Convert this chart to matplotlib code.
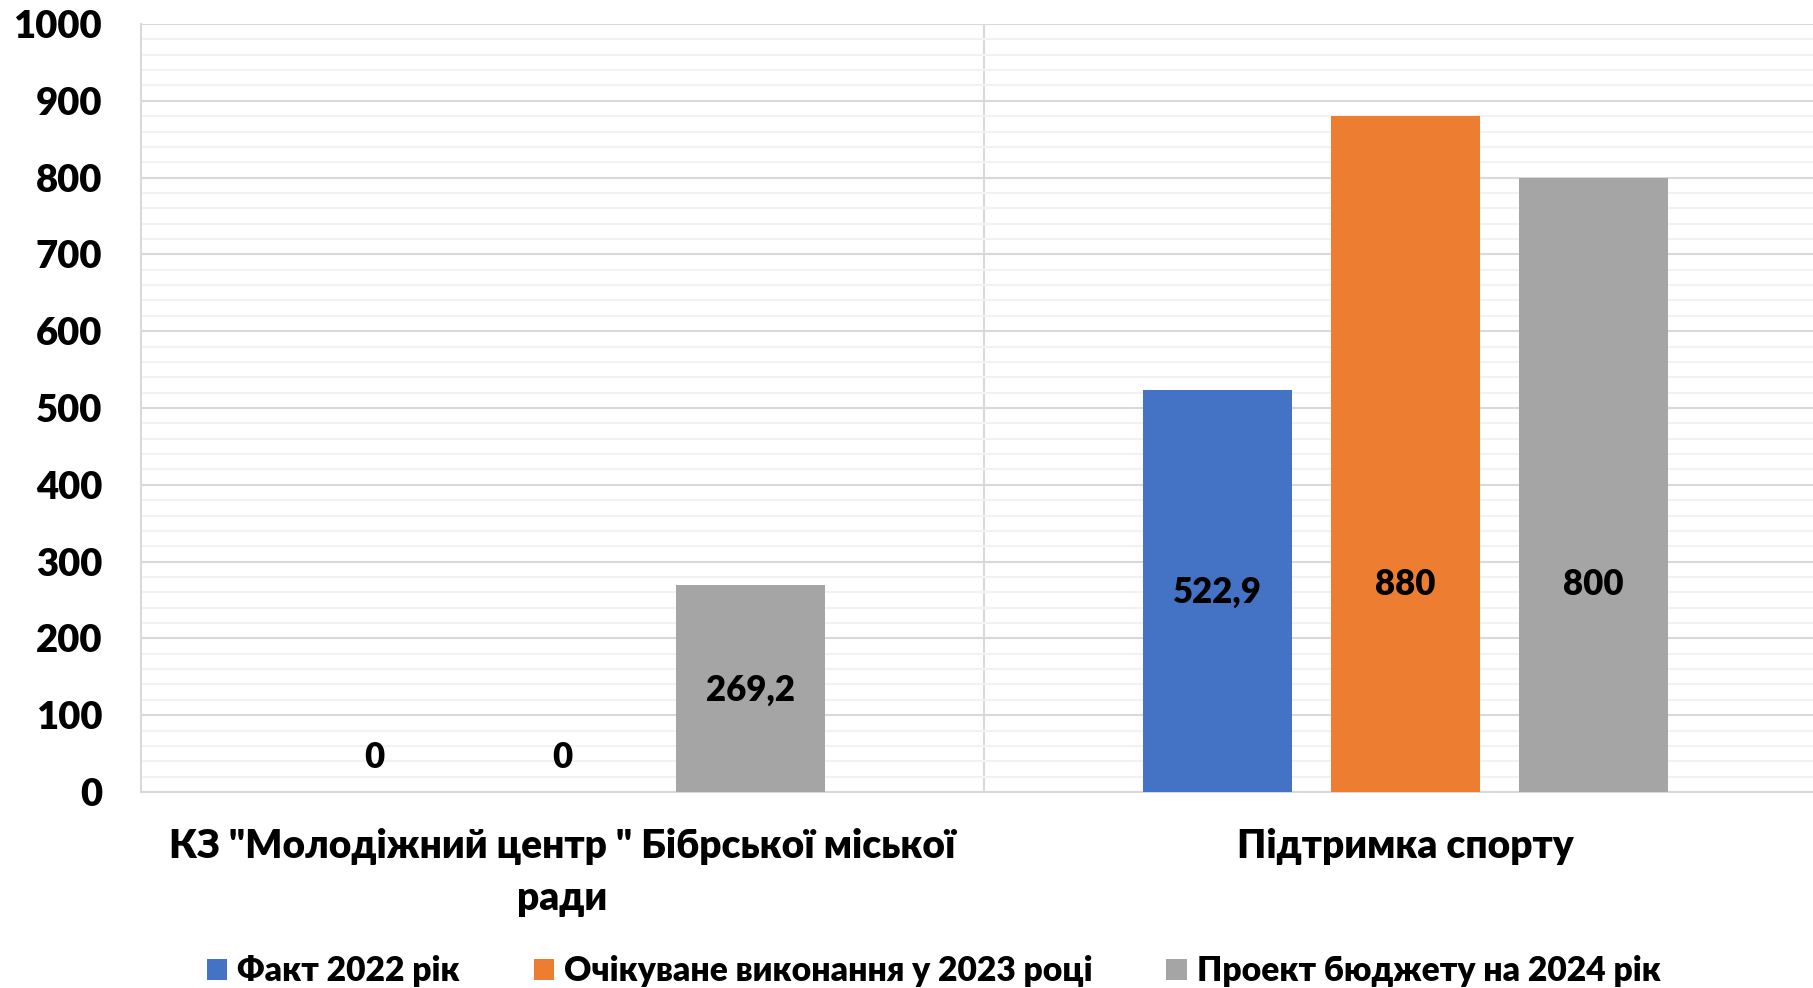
import numpy as np
import matplotlib.pyplot as plt
from matplotlib.ticker import MultipleLocator

# Дані діаграми
categories = ['КЗ "Молодіжний центр " Бібрської міської\nради', 'Підтримка спорту']
series_names = ['Факт 2022 рік', 'Очікуване виконання у 2023 році', 'Проект бюджету на 2024 рік']
fact_2022 = [0, 522.9]
expected_2023 = [0, 880]
project_2024 = [269.2, 800]
value_labels = [['0', '522,9'], ['0', '880'], ['269,2', '800']]
# висота підписів (як у вихідній діаграмі)
label_heights = [[45, 260], [45, 270], [133, 270]]

colors = ['#4472C4', '#ED7D31', '#A5A5A5']

plt.rcParams['font.family'] = ['Lato', 'DejaVu Sans']
W = 'heavy'

fig = plt.figure(figsize=(18.13, 9.88), dpi=100)
ax = fig.add_axes([141 / 1813, 196 / 988, 1686 / 1813, 768 / 988])

x = np.arange(len(categories))
width = 0.1756
step = 0.223
series = [fact_2022, expected_2023, project_2024]

for i, (name, vals) in enumerate(zip(series_names, series)):
    pos = x + (i - 1) * step
    ax.bar(pos, vals, width, color=colors[i], label=name, zorder=3)
    for p, txt, h in zip(pos, value_labels[i], label_heights[i]):
        ax.text(p, h, txt, ha='center', va='center', fontsize=25,
                fontweight=W, color='black', zorder=4)

ax.set_xlim(-0.5, 1.5)
ax.set_ylim(0, 1000)
ax.yaxis.set_major_locator(MultipleLocator(100))
ax.yaxis.set_minor_locator(MultipleLocator(20))
ax.grid(axis='y', which='major', color='#d9d9d9', linewidth=1.5, zorder=1)
ax.grid(axis='y', which='minor', color='#f2f2f2', linewidth=1.5, zorder=0)
ax.axvline(0.5, color='#d9d9d9', linewidth=1.5, zorder=1)

for side in ['top', 'right']:
    ax.spines[side].set_visible(False)
ax.spines['left'].set_color('#d9d9d9')
ax.spines['bottom'].set_color('#d9d9d9')
ax.spines['left'].set_linewidth(1.5)
ax.spines['bottom'].set_linewidth(1.5)

ax.set_xticks(x)
ax.set_xticklabels(categories, fontsize=28, fontweight=W, linespacing=1.5)
ax.tick_params(axis='x', length=0, pad=26)
ax.tick_params(axis='y', which='both', length=0, pad=28, labelsize=27.5)
for lbl in ax.get_yticklabels():
    lbl.set_fontweight(W)

ax.legend(loc='center', bbox_to_anchor=(0.515, 0.017), bbox_transform=fig.transFigure,
          ncol=3, frameon=False, handlelength=0.6, handleheight=0.6,
          handletextpad=0.3, columnspacing=2.2, prop={'weight': W, 'size': 24.2})

fig.savefig('out.png', dpi=100)
